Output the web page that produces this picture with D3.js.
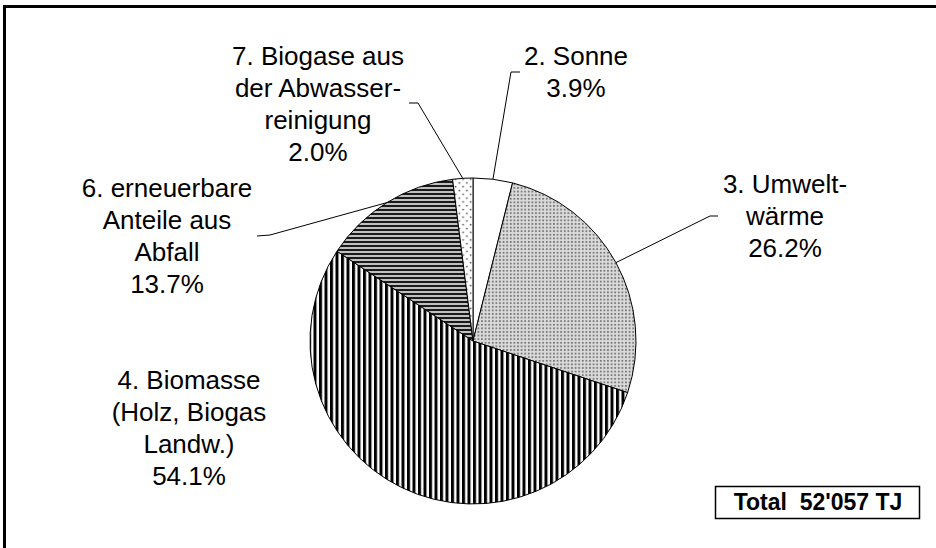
<!DOCTYPE html>
<html>
<head>
<meta charset="utf-8">
<script src="https://cdn.jsdelivr.net/npm/d3@7"></script>
<style>
    body { margin: 0; background: #fff; }
    svg { display: block; }
</style>
</head>
<body>
<svg id="chart"></svg>
<script>
const width = 936;
const height = 548;

// data
const names = ['Sonne', 'Umweltwärme', 'Biomasse', 'Abfall', 'Abwasser'];
const values = [3.9, 26.2, 54.1, 13.7, 2.0];
const labelLines = [
    ['2. Sonne'],
    ['3. Umwelt-', 'wärme'],
    ['4. Biomasse', '(Holz, Biogas', 'Landw.)'],
    ['6. erneuerbare', 'Anteile aus', 'Abfall'],
    ['7. Biogase aus', 'der Abwasser-', 'reinigung']
];
const totalText = "Total  52'057 TJ";

// layout
const cx = 473, cy = 341, radius = 163;
const lineStep = 32;
const labelPos = {
    Sonne:       { x: 576, y: 64.5, leader: [[511, 72], [520, 72]] },
    Umweltwärme: { x: 785, y: 192.5, leader: [[710, 216], [718, 216]] },
    Biomasse:    { x: 189, y: 388.5, leader: null },
    Abfall:      { x: 167, y: 197, leader: [[270, 235], [257, 236]] },
    Abwasser:    { x: 318, y: 64.5, leader: [[418, 103], [409, 103]] }
};
const fills = {
    Sonne: '#fff',
    Umweltwärme: 'url(#dots)',
    Biomasse: 'url(#vstripes)',
    Abfall: 'url(#hstripes)',
    Abwasser: 'url(#sparse)'
};

const svg = d3.select('#chart')
    .attr('width', width)
    .attr('height', height);

const defs = svg.append('defs');

let p = defs.append('pattern')
    .attr('id', 'dots')
    .attr('patternUnits', 'userSpaceOnUse')
    .attr('width', 3.6).attr('height', 3.6);
p.append('rect').attr('width', 3.6).attr('height', 3.6).attr('fill', '#d9d9d9');
p.append('rect').attr('x', 1).attr('y', 1).attr('width', 1.5).attr('height', 1.5).attr('fill', '#555');

p = defs.append('pattern')
    .attr('id', 'vstripes')
    .attr('patternUnits', 'userSpaceOnUse')
    .attr('width', 5.5).attr('height', 10);
p.append('rect').attr('width', 5.5).attr('height', 10).attr('fill', '#fff');
p.append('rect').attr('x', 0).attr('width', 3).attr('height', 10).attr('fill', '#000');

p = defs.append('pattern')
    .attr('id', 'hstripes')
    .attr('patternUnits', 'userSpaceOnUse')
    .attr('width', 10).attr('height', 4);
p.append('rect').attr('width', 10).attr('height', 4).attr('fill', '#c0c0c0');
p.append('rect').attr('y', 0).attr('width', 10).attr('height', 2).attr('fill', '#1a1a1a');

p = defs.append('pattern')
    .attr('id', 'sparse')
    .attr('patternUnits', 'userSpaceOnUse')
    .attr('width', 7.6).attr('height', 7.6);
p.append('rect').attr('width', 7.6).attr('height', 7.6).attr('fill', '#fff');
p.append('circle').attr('cx', 1.5).attr('cy', 1.5).attr('r', 0.9).attr('fill', '#444');
p.append('circle').attr('cx', 5.3).attr('cy', 5.3).attr('r', 0.9).attr('fill', '#444');

// frame (right and bottom edges fall outside the picture)
svg.append('path')
    .attr('d', `M4.5,${height + 10} V6.5 H${width + 10}`)
    .attr('fill', 'none')
    .attr('stroke', '#000')
    .attr('stroke-width', 3);

const pie = d3.pie().sort(null).value(d => d.value);
const arcs = pie(names.map((n, i) => ({ name: n, value: values[i], lines: labelLines[i] })));

const arc = d3.arc().innerRadius(0).outerRadius(radius);

const g = svg.append('g').attr('transform', `translate(${cx},${cy})`);

g.selectAll('path')
    .data(arcs)
    .enter()
    .append('path')
    .attr('d', arc)
    .attr('fill', d => fills[d.data.name])
    .attr('stroke', '#000')
    .attr('stroke-width', 1)
    .attr('stroke-linejoin', 'round');

// leader lines
arcs.forEach(d => {
    const pos = labelPos[d.data.name];
    if (!pos.leader) return;
    const a = (d.startAngle + d.endAngle) / 2;
    const start = [cx + radius * Math.sin(a), cy - radius * Math.cos(a)];
    svg.append('path')
        .datum([start].concat(pos.leader))
        .attr('d', d3.line())
        .attr('fill', 'none')
        .attr('stroke', '#000')
        .attr('stroke-width', 1);
});

// labels
arcs.forEach(d => {
    const pos = labelPos[d.data.name];
    const lines = d.data.lines.concat([`${d.data.value.toFixed(1)}%`]);
    const t = svg.append('text')
        .attr('text-anchor', 'middle')
        .style('font-family', '"Liberation Sans", Arial, sans-serif')
        .style('font-size', '26px')
        .attr('fill', '#000');
    lines.forEach((l, i) => {
        t.append('tspan')
            .attr('x', pos.x)
            .attr('y', pos.y + i * lineStep)
            .text(l);
    });
});

// total box
svg.append('rect')
    .attr('x', 715.5).attr('y', 486.5)
    .attr('width', 204).attr('height', 32)
    .attr('fill', '#fff')
    .attr('stroke', '#000')
    .attr('stroke-width', 1.5);

svg.append('text')
    .attr('x', 818).attr('y', 510)
    .attr('text-anchor', 'middle')
    .style('font-family', '"Liberation Sans", Arial, sans-serif')
    .style('font-size', '23px')
    .style('font-weight', 'bold')
    .style('white-space', 'pre')
    .text(totalText);
</script>
</body>
</html>
